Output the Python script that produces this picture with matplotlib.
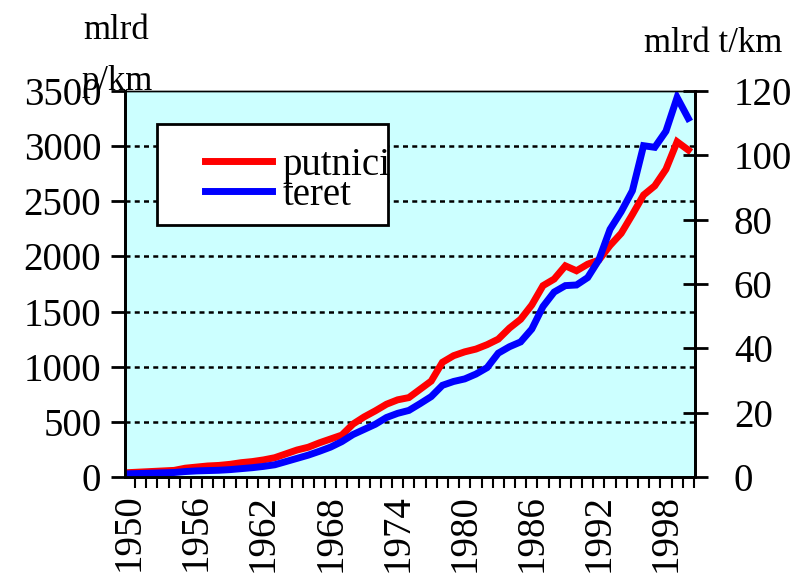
import numpy as np
import matplotlib
matplotlib.use("Agg")
import matplotlib.pyplot as plt
from matplotlib.ticker import FixedLocator
from matplotlib.patches import Rectangle

years = list(range(1950, 2001))

# mlrd putnickih km (lijeva os)
putnici = [40, 45, 50, 55, 60, 80, 90, 100, 105, 115,
           130, 140, 155, 175, 210, 245, 270, 310, 345, 380,
           480, 545, 600, 660, 700, 720, 795, 870, 1040, 1100,
           1135, 1160, 1200, 1250, 1350, 1430, 1560, 1735, 1795, 1915,
           1870, 1930, 1967, 2100, 2210, 2380, 2557, 2640, 2790, 3040,
           2965]

# mlrd tonskih km (desna os)
teret = [1.0, 1.1, 1.2, 1.3, 1.4, 1.7, 1.9, 2.0, 2.1, 2.3,
         2.6, 2.9, 3.3, 3.8, 4.8, 5.8, 6.8, 8.0, 9.3, 11.0,
         13.2, 14.8, 16.4, 18.5, 19.8, 20.7, 22.8, 25.0, 28.5, 29.7,
         30.5, 32.0, 34.0, 38.5, 40.5, 42.0, 46.0, 53.0, 57.5, 59.5,
         59.7, 62.0, 67.5, 77.0, 82.5, 89.0, 103.0, 102.5, 107.5, 118.0,
         111.5]

left_ticks = [0, 500, 1000, 1500, 2000, 2500, 3000, 3500]
right_ticks = [0, 20, 40, 60, 80, 100, 120]
year_labels = list(range(1950, 2000, 6))

plt.rcParams['font.family'] = ['Liberation Serif', 'DejaVu Serif']

fig = plt.figure(figsize=(7.92, 5.82), dpi=100)
ax = fig.add_axes([0.1578, 0.1804, 0.7197, 0.6632])
ax.set_facecolor('#ccffff')

ax.plot(years, putnici, color='#ff0000', lw=5, solid_joinstyle='miter',
        label='putnici', zorder=3)
ax.set_xlim(1949.6, 2000.6)
ax.set_ylim(0, 3500)
ax.set_yticks(left_ticks)
for v in left_ticks[1:-1]:
    ax.axhline(v, color='black', lw=1.8, ls=(0, (2, 1.7)), zorder=1)

ax2 = ax.twinx()
ax2.plot(years, teret, color='#0000ff', lw=5, solid_joinstyle='miter',
         label='teret')
ax2.set_ylim(0, 120)
ax2.set_yticks(right_ticks)

# x os: crtice za svaku godinu, oznake svakih 6 godina
ax.xaxis.set_major_locator(FixedLocator(year_labels))
ax.xaxis.set_minor_locator(FixedLocator(np.arange(1949.5, 2001, 1.0)))
ax.tick_params(axis='x', which='major', length=0, pad=12, labelsize=28,
               labelrotation=90)
ax.tick_params(axis='x', which='minor', length=8, width=1.5, direction='out')
ax.tick_params(axis='y', length=10, width=2, direction='out', pad=7,
               labelsize=28)
ax2.tick_params(axis='y', length=18, width=2, direction='inout', pad=19,
                labelsize=28)

for a in (ax, ax2):
    for s in a.spines.values():
        s.set_linewidth(2)
ax.spines['top'].set_linewidth(1)
ax2.spines['top'].set_linewidth(1)

# okvir legende
ax2.add_patch(Rectangle((0.056, 0.6528), 0.405, 0.2612, transform=ax2.transAxes,
                        facecolor='white', edgecolor='black', lw=2, zorder=4,
                        clip_on=False))
h1, l1 = ax.get_legend_handles_labels()
h2, l2 = ax2.get_legend_handles_labels()
leg = ax2.legend(h1 + h2, l1 + l2, loc='upper left',
                 bbox_to_anchor=(0.1404, 0.856), fontsize=28,
                 frameon=False, handlelength=1.72, handletextpad=0.28,
                 labelspacing=-0.17, borderpad=0, borderaxespad=0)
leg.set_zorder(5)

fig.text(0.146, 0.947, 'mlrd', fontsize=25, ha='center', va='center')
fig.text(0.148, 0.86, 'p/km', fontsize=25, ha='center', va='center')
fig.text(0.9, 0.925, 'mlrd t/km', fontsize=25, ha='center', va='center')

fig.savefig('out.png', dpi=100)
